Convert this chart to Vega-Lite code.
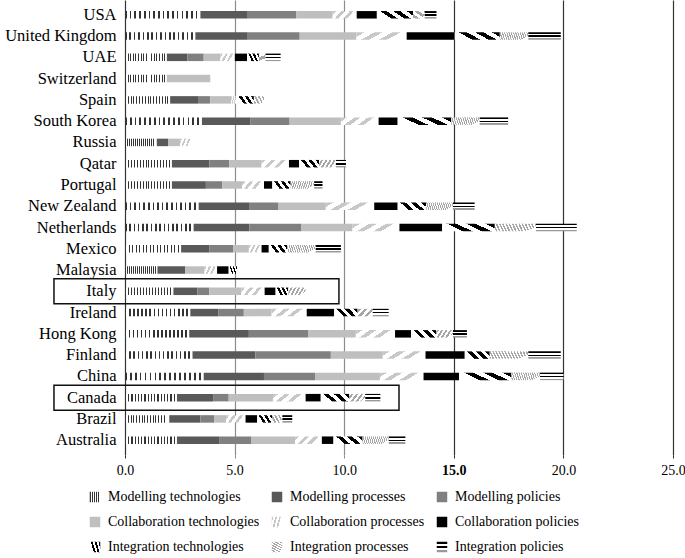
{
  "$schema": "https://vega.github.io/schema/vega-lite/v6.json",
  "autosize": "none",
  "width": 548,
  "height": 455,
  "padding": {"left": 125, "top": 0, "right": 12, "bottom": 103},
  "background": "white",
  "config": {
    "font": "Liberation Serif",
    "view": {"stroke": null},
    "axis": {"labelFont": "Liberation Serif", "labelColor": "black"},
    "legend": {"labelFont": "Liberation Serif", "labelColor": "black"}
  },
  "layer": [
    {
      "data": {
        "values": [
          {"country": "USA", "Modelling technologies": 3.44, "Modelling processes": 2.16, "Modelling policies": 2.22, "Collaboration technologies": 1.65, "Collaboration processes": 1.10, "Collaboration policies": 0.92, "Integration technologies": 1.65, "Integration processes": 0.53, "Integration policies": 0.54},
          {"country": "United Kingdom", "Modelling technologies": 3.21, "Modelling processes": 2.39, "Modelling policies": 2.37, "Collaboration technologies": 2.59, "Collaboration processes": 2.29, "Collaboration policies": 2.19, "Integration technologies": 2.06, "Integration processes": 1.30, "Integration policies": 1.48},
          {"country": "UAE", "Modelling technologies": 1.91, "Modelling processes": 0.94, "Modelling policies": 0.74, "Collaboration technologies": 0.76, "Collaboration processes": 0.66, "Collaboration policies": 0.56, "Integration technologies": 0.54, "Integration processes": 0.30, "Integration policies": 0.69},
          {"country": "Switzerland", "Modelling technologies": 1.91, "Modelling processes": 0, "Modelling policies": 0, "Collaboration technologies": 1.98, "Collaboration processes": 0, "Collaboration policies": 0, "Integration technologies": 0, "Integration processes": 0, "Integration policies": 0},
          {"country": "Spain", "Modelling technologies": 2.06, "Modelling processes": 1.27, "Modelling policies": 0.56, "Collaboration technologies": 0.96, "Collaboration processes": 0.26, "Collaboration policies": 0, "Integration technologies": 0.77, "Integration processes": 0.46, "Integration policies": 0},
          {"country": "South Korea", "Modelling technologies": 3.51, "Modelling processes": 2.22, "Modelling policies": 1.78, "Collaboration technologies": 2.34, "Collaboration processes": 1.72, "Collaboration policies": 0.87, "Integration technologies": 2.45, "Integration processes": 1.29, "Integration policies": 1.30},
          {"country": "Russia", "Modelling technologies": 1.45, "Modelling processes": 0.53, "Modelling policies": 0, "Collaboration technologies": 0.54, "Collaboration processes": 0.53, "Collaboration policies": 0, "Integration technologies": 0, "Integration processes": 0, "Integration policies": 0},
          {"country": "Qatar", "Modelling technologies": 2.14, "Modelling processes": 1.71, "Modelling policies": 0.91, "Collaboration technologies": 1.47, "Collaboration processes": 1.25, "Collaboration policies": 0.46, "Integration technologies": 0.91, "Integration processes": 0.77, "Integration policies": 0.46},
          {"country": "Portugal", "Modelling technologies": 2.14, "Modelling processes": 1.55, "Modelling policies": 0.74, "Collaboration technologies": 0.91, "Collaboration processes": 1.00, "Collaboration policies": 0.38, "Integration technologies": 0.84, "Integration processes": 1.07, "Integration policies": 0.38},
          {"country": "New Zealand", "Modelling technologies": 3.36, "Modelling processes": 2.33, "Modelling policies": 1.29, "Collaboration technologies": 2.18, "Collaboration processes": 2.21, "Collaboration policies": 1.07, "Integration technologies": 1.30, "Integration processes": 1.22, "Integration policies": 0.99},
          {"country": "Netherlands", "Modelling technologies": 3.13, "Modelling processes": 2.55, "Modelling policies": 2.37, "Collaboration technologies": 2.33, "Collaboration processes": 2.14, "Collaboration policies": 1.95, "Integration technologies": 2.40, "Integration processes": 1.88, "Integration policies": 1.86},
          {"country": "Mexico", "Modelling technologies": 2.56, "Modelling processes": 1.30, "Modelling policies": 1.07, "Collaboration technologies": 0.72, "Collaboration processes": 0.58, "Collaboration policies": 0.33, "Integration technologies": 0.84, "Integration processes": 1.30, "Integration policies": 1.15},
          {"country": "Malaysia", "Modelling technologies": 1.48, "Modelling processes": 1.27, "Modelling policies": 0, "Collaboration technologies": 0.88, "Collaboration processes": 0.57, "Collaboration policies": 0.53, "Integration technologies": 0.38, "Integration processes": 0, "Integration policies": 0},
          {"country": "Italy", "Modelling technologies": 2.21, "Modelling processes": 1.10, "Modelling policies": 0.54, "Collaboration technologies": 1.46, "Collaboration processes": 1.06, "Collaboration policies": 0.50, "Integration technologies": 0.58, "Integration processes": 0.79, "Integration policies": 0},
          {"country": "Ireland", "Modelling technologies": 2.98, "Modelling processes": 1.29, "Modelling policies": 1.15, "Collaboration technologies": 1.27, "Collaboration processes": 1.60, "Collaboration policies": 1.25, "Integration technologies": 1.07, "Integration processes": 0.69, "Integration policies": 0.73},
          {"country": "Hong Kong", "Modelling technologies": 2.93, "Modelling processes": 2.72, "Modelling policies": 2.72, "Collaboration technologies": 2.16, "Collaboration processes": 1.79, "Collaboration policies": 0.73, "Integration technologies": 1.15, "Integration processes": 0.76, "Integration policies": 0.64},
          {"country": "Finland", "Modelling technologies": 3.08, "Modelling processes": 2.87, "Modelling policies": 3.44, "Collaboration technologies": 2.37, "Collaboration processes": 1.95, "Collaboration policies": 1.79, "Integration technologies": 1.14, "Integration processes": 1.76, "Integration policies": 1.48},
          {"country": "China", "Modelling technologies": 3.59, "Modelling processes": 2.75, "Modelling policies": 2.33, "Collaboration technologies": 2.96, "Collaboration processes": 1.99, "Collaboration policies": 1.62, "Integration technologies": 2.39, "Integration processes": 1.30, "Integration policies": 1.07},
          {"country": "Canada", "Modelling technologies": 2.37, "Modelling processes": 1.65, "Modelling policies": 0.71, "Collaboration technologies": 2.02, "Collaboration processes": 1.49, "Collaboration policies": 0.69, "Integration technologies": 1.30, "Integration processes": 0.73, "Integration policies": 0.69},
          {"country": "Brazil", "Modelling technologies": 2.02, "Modelling processes": 1.42, "Modelling policies": 0.64, "Collaboration technologies": 0.53, "Collaboration processes": 0.89, "Collaboration policies": 0.53, "Integration technologies": 0.69, "Integration processes": 0.46, "Integration policies": 0.45},
          {"country": "Australia", "Modelling technologies": 2.37, "Modelling processes": 1.95, "Modelling policies": 1.45, "Collaboration technologies": 1.99, "Collaboration processes": 1.22, "Collaboration policies": 0.53, "Integration technologies": 1.33, "Integration processes": 1.19, "Integration policies": 0.76}
        ]
      },
      "transform": [
        {"fold": ["Modelling technologies", "Modelling processes", "Modelling policies", "Collaboration technologies", "Collaboration processes", "Collaboration policies", "Integration technologies", "Integration processes", "Integration policies"], "as": ["cat", "v"]},
        {"window": [{"op": "row_number", "as": "k"}], "groupby": ["country"]},
        {"filter": "datum.v > 0"}
      ],
      "mark": {"type": "bar", "strokeWidth": 0},
      "encoding": {
        "y": {
          "field": "country", "type": "nominal",
          "sort": ["USA", "United Kingdom", "UAE", "Switzerland", "Spain", "South Korea", "Russia", "Qatar", "Portugal", "New Zealand", "Netherlands", "Mexico", "Malaysia", "Italy", "Ireland", "Hong Kong", "Finland", "China", "Canada", "Brazil", "Australia"],
          "scale": {"paddingInner": 0.648, "paddingOuter": 0.52},
          "axis": {"title": null, "ticks": false, "domain": false, "labelFontSize": 16.5, "labelPadding": 9, "labelLimit": 200}
        },
        "x": {
          "field": "v", "type": "quantitative", "stack": "zero",
          "scale": {"domain": [0, 25], "nice": false, "zero": true},
          "axis": {
            "title": null, "values": [0, 5, 10, 15, 20, 25], "format": ".1f",
            "grid": true, "domain": false, "ticks": true, "tickSize": 3,
            "gridColor": {"condition": {"test": "datum.value == 5 || datum.value == 10", "value": "#8c8c8c"}, "value": "#333333"},
            "tickColor": {"condition": {"test": "datum.value == 5 || datum.value == 10", "value": "#8c8c8c"}, "value": "#333333"},
            "gridOpacity": 1, "gridWidth": 1.2,
            "labelFontSize": 14, "labelPadding": 5, "labelFlush": false,
            "labelFontWeight": {"condition": {"test": "datum.value == 15", "value": "bold"}, "value": "normal"}
          }
        },
        "order": {"field": "k", "type": "quantitative", "sort": "ascending"},
        "color": {
          "field": "cat", "type": "nominal",
          "sort": ["Modelling technologies", "Modelling processes", "Modelling policies", "Collaboration technologies", "Collaboration processes", "Collaboration policies", "Integration technologies", "Integration processes", "Integration policies"],
          "scale": {
            "domain": ["Modelling technologies", "Modelling processes", "Modelling policies", "Collaboration technologies", "Collaboration processes", "Collaboration policies", "Integration technologies", "Integration processes", "Integration policies"],
            "range": [
              {"expr": "{gradient:'linear',x1:0,y1:0,x2:1,y2:0,stops:[{offset:0,color:'#333'},{offset:0.022,color:'#333'},{offset:0.022,color:'#fff'},{offset:0.0625,color:'#fff'},{offset:0.0625,color:'#333'},{offset:0.0845,color:'#333'},{offset:0.0845,color:'#fff'},{offset:0.125,color:'#fff'},{offset:0.125,color:'#333'},{offset:0.147,color:'#333'},{offset:0.147,color:'#fff'},{offset:0.1875,color:'#fff'},{offset:0.1875,color:'#333'},{offset:0.2095,color:'#333'},{offset:0.2095,color:'#fff'},{offset:0.25,color:'#fff'},{offset:0.25,color:'#333'},{offset:0.272,color:'#333'},{offset:0.272,color:'#fff'},{offset:0.3125,color:'#fff'},{offset:0.3125,color:'#333'},{offset:0.3345,color:'#333'},{offset:0.3345,color:'#fff'},{offset:0.375,color:'#fff'},{offset:0.375,color:'#333'},{offset:0.397,color:'#333'},{offset:0.397,color:'#fff'},{offset:0.4375,color:'#fff'},{offset:0.4375,color:'#333'},{offset:0.4595,color:'#333'},{offset:0.4595,color:'#fff'},{offset:0.5,color:'#fff'},{offset:0.5,color:'#333'},{offset:0.522,color:'#333'},{offset:0.522,color:'#fff'},{offset:0.5625,color:'#fff'},{offset:0.5625,color:'#333'},{offset:0.5845,color:'#333'},{offset:0.5845,color:'#fff'},{offset:0.625,color:'#fff'},{offset:0.625,color:'#333'},{offset:0.647,color:'#333'},{offset:0.647,color:'#fff'},{offset:0.6875,color:'#fff'},{offset:0.6875,color:'#333'},{offset:0.7095,color:'#333'},{offset:0.7095,color:'#fff'},{offset:0.75,color:'#fff'},{offset:0.75,color:'#333'},{offset:0.772,color:'#333'},{offset:0.772,color:'#fff'},{offset:0.8125,color:'#fff'},{offset:0.8125,color:'#333'},{offset:0.8345,color:'#333'},{offset:0.8345,color:'#fff'},{offset:0.875,color:'#fff'},{offset:0.875,color:'#333'},{offset:0.897,color:'#333'},{offset:0.897,color:'#fff'},{offset:0.9375,color:'#fff'},{offset:0.9375,color:'#333'},{offset:0.9595,color:'#333'},{offset:0.9595,color:'#fff'},{offset:1,color:'#fff'}]}"},
              "#595959",
              "#808080",
              "#bfbfbf",
              {"expr": "{gradient:'linear',x1:0,y1:0,x2:1,y2:0.27,stops:[{offset:0,color:'#c8c8c8'},{offset:0.15,color:'#c8c8c8'},{offset:0.15,color:'#fff'},{offset:0.333,color:'#fff'},{offset:0.333,color:'#c8c8c8'},{offset:0.483,color:'#c8c8c8'},{offset:0.483,color:'#fff'},{offset:0.667,color:'#fff'},{offset:0.667,color:'#c8c8c8'},{offset:0.817,color:'#c8c8c8'},{offset:0.817,color:'#fff'},{offset:1,color:'#fff'}]}"},
              "#000000",
              {"expr": "{gradient:'linear',x1:0,y1:0.3,x2:1,y2:0,stops:[{offset:0,color:'#fff'},{offset:0.167,color:'#fff'},{offset:0.167,color:'#000'},{offset:0.333,color:'#000'},{offset:0.333,color:'#fff'},{offset:0.5,color:'#fff'},{offset:0.5,color:'#000'},{offset:0.667,color:'#000'},{offset:0.667,color:'#fff'},{offset:0.833,color:'#fff'},{offset:0.833,color:'#000'},{offset:1,color:'#000'}]}"},
              {"expr": "{gradient:'linear',x1:0,y1:0,x2:1,y2:0.5,stops:[{offset:0,color:'#a6a6a6'},{offset:0.031,color:'#a6a6a6'},{offset:0.031,color:'#fff'},{offset:0.0625,color:'#fff'},{offset:0.0625,color:'#a6a6a6'},{offset:0.094,color:'#a6a6a6'},{offset:0.094,color:'#fff'},{offset:0.125,color:'#fff'},{offset:0.125,color:'#a6a6a6'},{offset:0.156,color:'#a6a6a6'},{offset:0.156,color:'#fff'},{offset:0.1875,color:'#fff'},{offset:0.1875,color:'#a6a6a6'},{offset:0.219,color:'#a6a6a6'},{offset:0.219,color:'#fff'},{offset:0.25,color:'#fff'},{offset:0.25,color:'#a6a6a6'},{offset:0.281,color:'#a6a6a6'},{offset:0.281,color:'#fff'},{offset:0.3125,color:'#fff'},{offset:0.3125,color:'#a6a6a6'},{offset:0.344,color:'#a6a6a6'},{offset:0.344,color:'#fff'},{offset:0.375,color:'#fff'},{offset:0.375,color:'#a6a6a6'},{offset:0.406,color:'#a6a6a6'},{offset:0.406,color:'#fff'},{offset:0.4375,color:'#fff'},{offset:0.4375,color:'#a6a6a6'},{offset:0.469,color:'#a6a6a6'},{offset:0.469,color:'#fff'},{offset:0.5,color:'#fff'},{offset:0.5,color:'#a6a6a6'},{offset:0.531,color:'#a6a6a6'},{offset:0.531,color:'#fff'},{offset:0.5625,color:'#fff'},{offset:0.5625,color:'#a6a6a6'},{offset:0.594,color:'#a6a6a6'},{offset:0.594,color:'#fff'},{offset:0.625,color:'#fff'},{offset:0.625,color:'#a6a6a6'},{offset:0.656,color:'#a6a6a6'},{offset:0.656,color:'#fff'},{offset:0.6875,color:'#fff'},{offset:0.6875,color:'#a6a6a6'},{offset:0.719,color:'#a6a6a6'},{offset:0.719,color:'#fff'},{offset:0.75,color:'#fff'},{offset:0.75,color:'#a6a6a6'},{offset:0.781,color:'#a6a6a6'},{offset:0.781,color:'#fff'},{offset:0.8125,color:'#fff'},{offset:0.8125,color:'#a6a6a6'},{offset:0.844,color:'#a6a6a6'},{offset:0.844,color:'#fff'},{offset:0.875,color:'#fff'},{offset:0.875,color:'#a6a6a6'},{offset:0.906,color:'#a6a6a6'},{offset:0.906,color:'#fff'},{offset:0.9375,color:'#fff'},{offset:0.9375,color:'#a6a6a6'},{offset:0.969,color:'#a6a6a6'},{offset:0.969,color:'#fff'},{offset:1,color:'#fff'}]}"},
              {"expr": "{gradient:'linear',x1:0,y1:0,x2:0,y2:1,stops:[{offset:0,color:'#000'},{offset:0.2,color:'#000'},{offset:0.2,color:'#fff'},{offset:0.42,color:'#fff'},{offset:0.42,color:'#000'},{offset:0.62,color:'#000'},{offset:0.62,color:'#fff'},{offset:0.8,color:'#fff'},{offset:0.8,color:'#999'},{offset:1,color:'#999'}]}"}
            ]
          },
          "legend": {
            "title": null, "orient": "none", "legendX": -37, "legendY": 490,
            "columns": 3, "direction": "horizontal",
            "symbolType": "square", "symbolSize": 110, "symbolStrokeWidth": 0,
            "labelFontSize": 14, "labelOffset": 6, "columnPadding": 10, "rowPadding": 11,
            "labelLimit": 250
          }
        }
      }
    },
    {
      "data": {
        "values": [
          {"country": "Italy", "x0": -3.24, "x1": 9.76},
          {"country": "Canada", "x0": -3.24, "x1": 12.5}
        ]
      },
      "mark": {"type": "bar", "size": 25, "fill": "transparent", "stroke": "#111111", "strokeWidth": 1.5},
      "encoding": {
        "y": {
          "field": "country", "type": "nominal",
          "sort": ["USA", "United Kingdom", "UAE", "Switzerland", "Spain", "South Korea", "Russia", "Qatar", "Portugal", "New Zealand", "Netherlands", "Mexico", "Malaysia", "Italy", "Ireland", "Hong Kong", "Finland", "China", "Canada", "Brazil", "Australia"]
        },
        "x": {"field": "x0", "type": "quantitative", "scale": {"domain": [0, 25], "nice": false}},
        "x2": {"field": "x1"}
      }
    }
  ]
}
